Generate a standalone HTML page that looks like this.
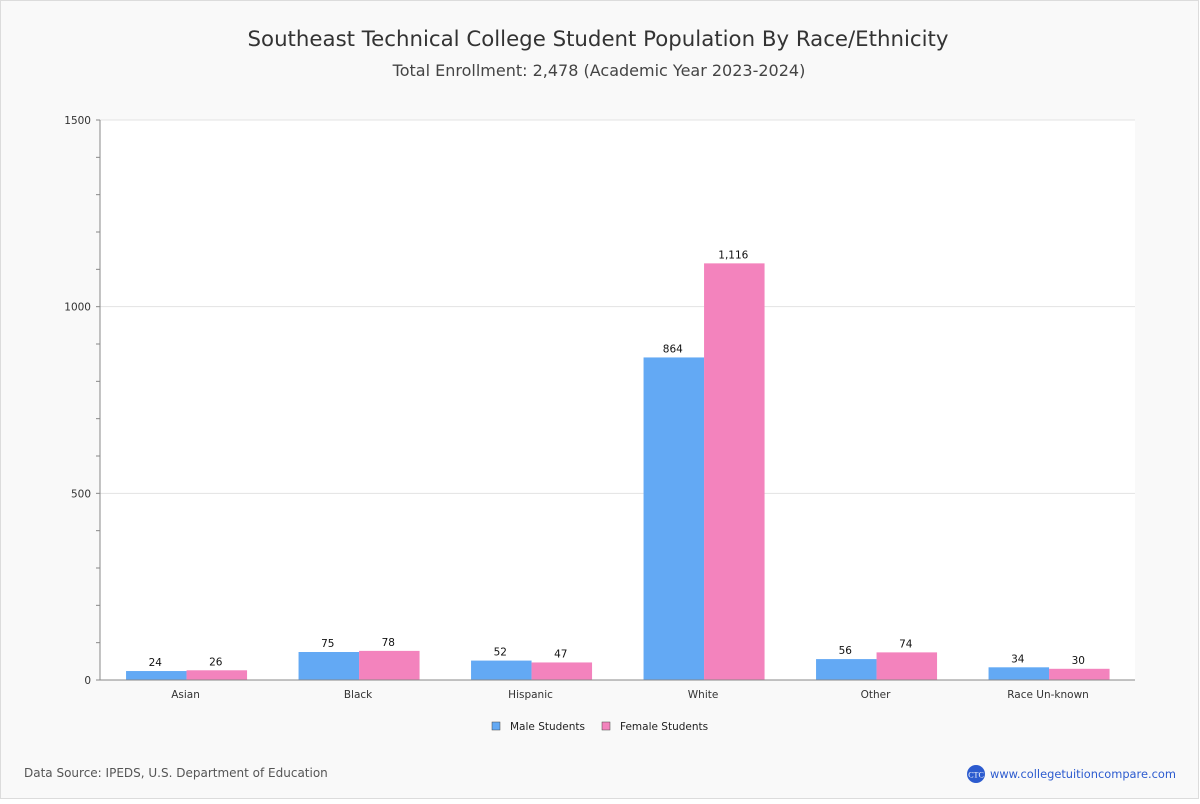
<!DOCTYPE html>
<html><head><meta charset="utf-8"><style>
body{margin:0;width:1200px;height:800px;overflow:hidden;background:#fff;font-family:"DejaVu Sans","Liberation Sans",sans-serif}
</style></head><body>
<svg id="chart" width="1200" height="800" xmlns="http://www.w3.org/2000/svg" font-family="DejaVu Sans, Liberation Sans, sans-serif">
<rect x="0.5" y="0.5" width="1198" height="798" fill="#f9f9f9" stroke="#dcdcdc"/>
<text x="598" y="46" text-anchor="middle" font-size="21.3" fill="#333">Southeast Technical College Student Population By Race/Ethnicity</text>
<text x="599" y="76" text-anchor="middle" font-size="16" fill="#444">Total Enrollment: 2,478 (Academic Year 2023-2024)</text>
<rect x="100" y="120" width="1035" height="560" fill="#fff"/>
<g id="grid"></g><g id="bars"></g><g id="axes"></g>
<g>
<rect x="492" y="722" width="8" height="8" fill="#63a9f4" stroke="#444" stroke-width="0.5"/>
<text x="510" y="730" font-size="10.5" fill="#222">Male Students</text>
<rect x="602" y="722" width="8" height="8" fill="#f383bd" stroke="#444" stroke-width="0.5"/>
<text x="620" y="730" font-size="10.5" fill="#222">Female Students</text>
</g>
<text x="24" y="777" font-size="12" fill="#555">Data Source: IPEDS, U.S. Department of Education</text>
<circle cx="976" cy="774" r="9" fill="#2c5bcf"/>
<text x="976" y="777.5" text-anchor="middle" font-size="8" fill="#fff" font-family="Liberation Serif, serif">CTC</text>
<text x="990" y="778" font-size="11.4" fill="#2c5bcf">www.collegetuitioncompare.com</text>
</svg>
<script>
const categories=["Asian","Black","Hispanic","White","Other","Race Un-known"];
const maleValues=[24,75,52,864,56,34];
const femaleValues=[26,78,47,1116,74,30];
const yTicks=[0,500,1000,1500];
const NS="http://www.w3.org/2000/svg";
const x0=100,x1=1135,yTop=120,yBot=680,yMax=1500;
const y=v=>yBot-(v/yMax)*(yBot-yTop);
const band=(x1-x0)/categories.length;
const xc=i=>x0+band*(i+0.5);
function mk(t,a,p){const e=document.createElementNS(NS,t);for(const k in a)e.setAttribute(k,a[k]);p.appendChild(e);return e;}
const grid=document.getElementById('grid'),bars=document.getElementById('bars'),axes=document.getElementById('axes');
yTicks.forEach(v=>{
 const l=mk('line',{x1:x0,x2:x1,y1:y(v),y2:y(v),stroke:'#e3e3e3'},grid);
 
 
 const t=mk('text',{x:91,y:y(v)+4,'text-anchor':'end','font-size':10.5,fill:'#333'},axes);
 t.textContent=v;
 
 
});
for(let v=0;v<=yMax;v+=100){
 const tk=mk('line',{x1:96,x2:100,y1:y(v),y2:y(v),stroke:'#888'},axes);
 
 
}
const ya=mk('line',{x1:x0,x2:x0,y1:yTop,y2:yBot,stroke:'#888'},axes);


const xa=mk('line',{x1:x0,x2:x1,y1:yBot,y2:yBot,stroke:'#888'},axes);


const bw=60.5;
const fmt=v=>v.toLocaleString('en-US');
categories.forEach((c,i)=>{
 const cx=xc(i)+0.3;
 [[maleValues[i],'#63a9f4',cx-bw,'bar-male'],[femaleValues[i],'#f383bd',cx,'bar-female']].forEach(([v,col,bx,nm])=>{
  const r=mk('rect',{x:bx,y:y(v),width:bw,height:yBot-y(v),fill:col},bars);
  
  
  const t=mk('text',{x:bx+bw/2-1,y:y(v)-5,'text-anchor':'middle','font-size':10.5,fill:'#111'},bars);
  t.textContent=fmt(v);
  
  
 });
 const tl=mk('text',{x:cx-1,y:698,'text-anchor':'middle','font-size':10.5,fill:'#333'},axes);
 tl.textContent=c;
 
 
});
</script>
</body></html>
